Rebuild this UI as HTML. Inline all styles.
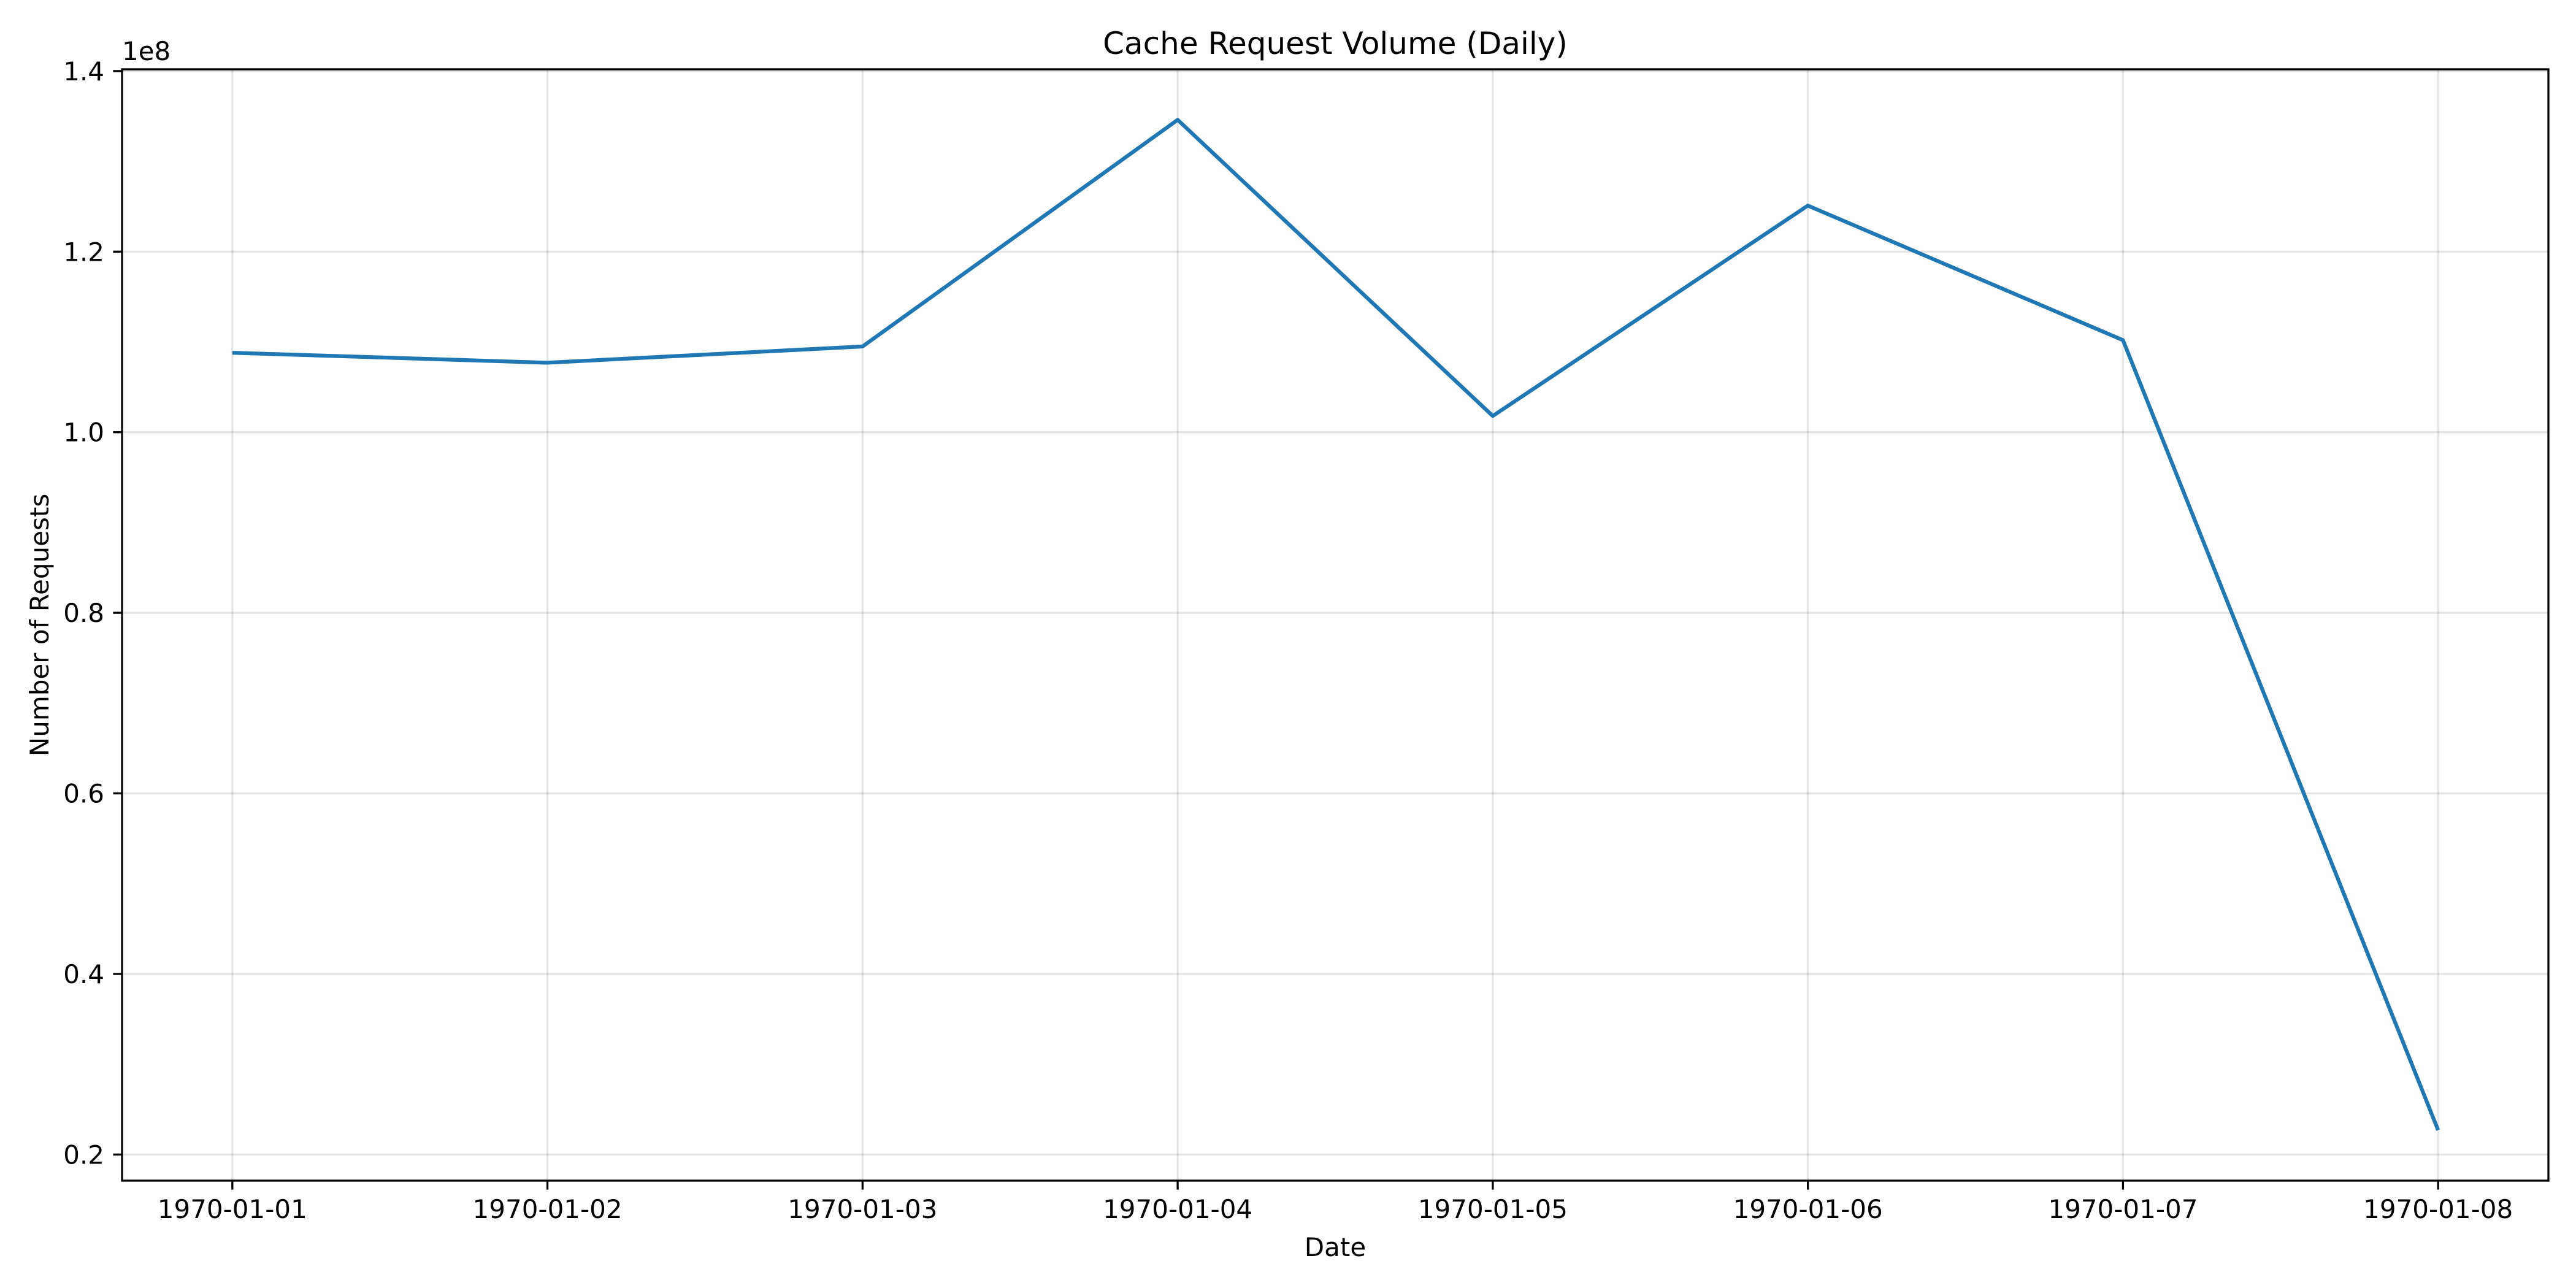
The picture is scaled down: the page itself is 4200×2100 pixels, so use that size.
<!DOCTYPE html>
<html><head><meta charset="utf-8"><style>
html,body{margin:0;padding:0;background:#fff}
svg{display:block;font-family:"DejaVu Sans","Liberation Sans",sans-serif}
</style></head><body>
<svg id="chart" width="4200" height="2100" viewBox="0 0 4200 2100" xmlns="http://www.w3.org/2000/svg">
<rect width="4200" height="2100" fill="#fff"/>
<g id="grid"></g>
<g id="series"></g>
<rect x="199" y="113" width="3956" height="1812" fill="none" stroke="#000" stroke-width="3.3"/>
<g id="ticks"></g>
<text x="2177" y="88" font-size="50" text-anchor="middle">Cache Request Volume (Daily)</text>
<text x="2177" y="2048" font-size="42" text-anchor="middle">Date</text>
<text x="0" y="0" font-size="42" text-anchor="middle" transform="translate(79,1019) rotate(-90)">Number of Requests</text>
<text x="199" y="98" font-size="42">1e8</text>
</svg>
<script>
const categories = ["1970-01-01","1970-01-02","1970-01-03","1970-01-04","1970-01-05","1970-01-06","1970-01-07","1970-01-08"];
const requests = [1.088, 1.077, 1.095, 1.346, 1.018, 1.251, 1.102, 0.227];
const yTicks = [0.2, 0.4, 0.6, 0.8, 1.0, 1.2, 1.4];
const yTickLabels = ["0.2","0.4","0.6","0.8","1.0","1.2","1.4"];

const NS = "http://www.w3.org/2000/svg";
const L = 199, R = 4155, T = 113, B = 1925;
const n = categories.length;
const xMin = -0.35, xMax = (n - 1) + 0.35;
const yMinD = Math.min(...requests), yMaxD = Math.max(...requests);
const pad = (yMaxD - yMinD) * 0.05;
const yMin = yMinD - pad, yMax = yMaxD + pad;
const xs = i => L + (i - xMin) / (xMax - xMin) * (R - L);
const ys = v => B - (v - yMin) / (yMax - yMin) * (B - T);
function mk(tag, attrs, parent) {
  const e = document.createElementNS(NS, tag);
  for (const k in attrs) e.setAttribute(k, attrs[k]);
  parent.appendChild(e);
  return e;
}
const grid = document.getElementById('grid');
const ticks = document.getElementById('ticks');
const series = document.getElementById('series');
categories.forEach((c, i) => {
  const x = xs(i);
  const g = mk('line', {x1: x, x2: x, y1: T, y2: B, stroke: '#000', 'stroke-opacity': 0.1, 'stroke-width': 3.3}, grid);
  
  
  const t = mk('line', {x1: x, x2: x, y1: B, y2: B + 14.6, stroke: '#000', 'stroke-width': 3.3}, ticks);
  
  
  const lb = mk('text', {x: x, y: B + 61, 'font-size': 42, 'text-anchor': 'middle'}, ticks);
  lb.textContent = c;
  
  
});
yTicks.forEach((v, i) => {
  const y = ys(v);
  const g = mk('line', {x1: L, x2: R, y1: y, y2: y, stroke: '#000', 'stroke-opacity': 0.1, 'stroke-width': 3.3}, grid);
  
  
  const t = mk('line', {x1: L - 14.6, x2: L, y1: y, y2: y, stroke: '#000', 'stroke-width': 3.3}, ticks);
  
  
  const lb = mk('text', {x: L - 29, y: y + 15, 'font-size': 42, 'text-anchor': 'end'}, ticks);
  lb.textContent = yTickLabels[i];
  
  
});
const pts = requests.map((v, i) => xs(i).toFixed(1) + ',' + ys(v).toFixed(1)).join(' ');
const line = mk('polyline', {points: pts, fill: 'none', stroke: '#1f77b4', 'stroke-width': 6.25, 'stroke-linejoin': 'round', 'stroke-linecap': 'butt'}, series);


</script>
</body></html>
